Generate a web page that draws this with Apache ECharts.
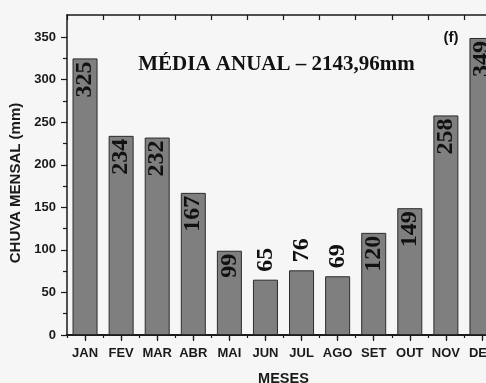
<!DOCTYPE html>
<html>
<head>
<meta charset="utf-8">
<script src="https://cdn.jsdelivr.net/npm/echarts@6/dist/echarts.min.js"></script>
<style>
  html, body { margin: 0; padding: 0; background: #f6f6f6; overflow: hidden; width: 486px; height: 383px; }
  /* the plot frame runs past the right edge of the window */
  #chart { width: 500px; height: 383px; }
</style>
</head>
<body>
<div id="chart"></div>
<script>
// Monthly rainfall (mm)
const months = ['JAN', 'FEV', 'MAR', 'ABR', 'MAI', 'JUN', 'JUL', 'AGO', 'SET', 'OUT', 'NOV', 'DEZ'];
const rainfall = [325, 234, 232, 167, 99, 65, 76, 69, 120, 149, 258, 349];
const majorTicks = [0, 50, 100, 150, 200, 250, 300, 350];
const minorTicks = [25, 75, 125, 175, 225, 275, 325];
const annualText = 'MÉDIA ANUAL – 2143,96mm';
const panelTag = '(f)';
const yTitle = 'CHUVA MENSAL (mm)';
const xTitle = 'MESES';

const ink = '#1a1a1a';
const sans = 'Liberation Sans, Arial, sans-serif';
const serif = 'Liberation Serif, Times New Roman, serif';

const yMax = 376;

// short bars carry their value above the bar, tall ones inside the top
const barData = rainfall.map(v => {
  const outside = v < 90;
  return {
    value: v,
    label: outside
      ? { position: 'top', align: 'left', distance: 8 }
      : { position: 'insideTop', align: 'right', distance: 3 }
  };
});

const chart = echarts.init(document.getElementById('chart'), null, { renderer: 'canvas' });

const catAxisBase = {
  type: 'category',
  data: months,
  gridIndex: 0,
  boundaryGap: true,
  axisLine: { show: true, lineStyle: { color: ink, width: 1.5 } },
  splitLine: { show: false }
};

chart.setOption({
  backgroundColor: '#f6f6f6',
  animation: false,
  grid: { left: 67, top: 15, right: 0, height: 320, containLabel: false, outerBoundsMode: 'none' },
  xAxis: [
    Object.assign({}, catAxisBase, {
      position: 'bottom',
      axisTick: { show: true, alignWithLabel: true, interval: 0, inside: false, length: 6, lineStyle: { color: ink, width: 1.2 } },
      axisLabel: { show: true, interval: 0, color: ink, fontFamily: sans, fontWeight: 'bold', fontSize: 13, margin: 12 },
      name: xTitle,
      nameLocation: 'middle',
      nameGap: 36,
      nameTextStyle: { color: ink, fontFamily: sans, fontWeight: 'bold', fontSize: 14.5 }
    }),
    Object.assign({}, catAxisBase, {
      position: 'bottom',
      axisTick: { show: true, alignWithLabel: false, interval: 0, inside: false, length: 3, lineStyle: { color: ink, width: 1.2 } },
      axisLabel: { show: false }
    }),
    Object.assign({}, catAxisBase, {
      position: 'top',
      axisTick: { show: true, alignWithLabel: true, interval: 0, inside: true, length: 5, lineStyle: { color: ink, width: 1.2 } },
      axisLabel: { show: false }
    }),
    Object.assign({}, catAxisBase, {
      position: 'top',
      axisTick: { show: true, alignWithLabel: false, interval: 0, inside: true, length: 5, lineStyle: { color: ink, width: 1.2 } },
      axisLabel: { show: false }
    })
  ],
  yAxis: [
    {
      type: 'value',
      position: 'left',
      min: 0,
      max: yMax,
      interval: 50,
      axisLine: { show: true, lineStyle: { color: ink, width: 1.5 } },
      axisTick: { show: true, inside: false, length: 6, customValues: majorTicks, lineStyle: { color: ink, width: 1.2 } },
      axisLabel: { show: true, customValues: majorTicks, color: ink, fontFamily: sans, fontWeight: 'bold', fontSize: 13, margin: 11 },
      splitLine: { show: false }
    },
    {
      type: 'value',
      position: 'left',
      min: 0,
      max: yMax,
      interval: 50,
      axisLine: { show: false },
      axisTick: { show: true, inside: false, length: 4, customValues: minorTicks, lineStyle: { color: ink, width: 1.2 } },
      axisLabel: { show: false },
      splitLine: { show: false }
    },
    {
      type: 'value',
      position: 'right',
      min: 0,
      max: yMax,
      interval: 50,
      axisLine: { show: true, lineStyle: { color: ink, width: 1.5 } },
      axisTick: { show: false },
      axisLabel: { show: false },
      splitLine: { show: false }
    }
  ],
  series: [
    {
      type: 'bar',
      xAxisIndex: 0,
      yAxisIndex: 0,
      data: barData,
      barWidth: 25,
      itemStyle: { color: '#7f7f7f', borderColor: '#2b2b2b', borderWidth: 1 },
      label: {
        show: true,
        rotate: 90,
        verticalAlign: 'middle',
        formatter: '{c}',
        color: '#111',
        fontFamily: serif,
        fontWeight: 'bold',
        fontSize: 24
      }
    }
  ],
  graphic: [
    {
      type: 'text',
      x: 276.5,
      y: 65,
      style: {
        text: annualText,
        fill: '#111',
        font: 'bold 21px ' + serif,
        textAlign: 'center',
        textVerticalAlign: 'middle'
      }
    },
    {
      type: 'text',
      x: 451,
      y: 38,
      style: {
        text: panelTag,
        fill: '#111',
        font: 'bold 15px ' + sans,
        textAlign: 'center',
        textVerticalAlign: 'middle'
      }
    },
    {
      type: 'text',
      x: 16,
      y: 183,
      rotation: Math.PI / 2,
      style: {
        text: yTitle,
        fill: ink,
        font: 'bold 15px ' + sans,
        textAlign: 'center',
        textVerticalAlign: 'middle'
      }
    }
  ]
});
</script>
</body>
</html>
